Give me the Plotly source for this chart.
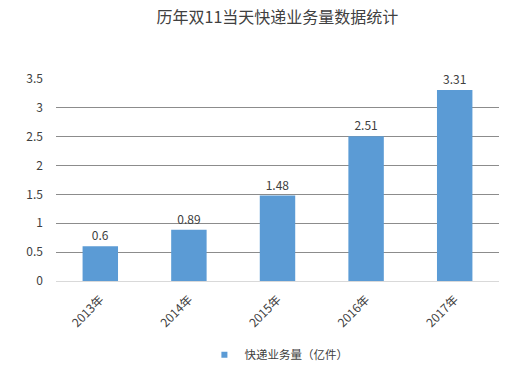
import plotly.graph_objects as go

categories = ["2013年", "2014年", "2015年", "2016年", "2017年"]
values = [0.6, 0.89, 1.48, 2.51, 3.31]
labels = ["0.6", "0.89", "1.48", "2.51", "3.31"]
series_name = "快递业务量（亿件）"
title = "历年双11当天快递业务量数据统计"

font_family = "Microsoft YaHei, Noto Sans CJK SC, sans-serif"
bar_color = "#5b9bd5"

fig = go.Figure()
fig.add_trace(go.Bar(
    x=categories, y=values, name=series_name,
    marker=dict(color=bar_color, line=dict(width=0)),
    width=0.4,
    text=labels, textposition="outside",
    textfont=dict(size=12, color="#404040", family=font_family),
    cliponaxis=False, showlegend=False,
))
fig.add_trace(go.Scatter(
    x=[None], y=[None], mode="markers", name=series_name,
    marker=dict(symbol="square", size=6, color=bar_color),
    showlegend=True,
))
fig.update_layout(
    width=512, height=378,
    margin=dict(l=56, r=13, t=79, b=97, autoexpand=False),
    paper_bgcolor="white", plot_bgcolor="white",
    title=dict(text=title, x=0.542, xanchor="center", y=0.955, yanchor="middle",
               font=dict(size=16, color="#404040", family=font_family)),
    showlegend=True,
    legend=dict(orientation="h", x=0.335, xanchor="left", y=-0.365, yanchor="middle",
                font=dict(size=11.5, color="#404040", family=font_family),
                itemwidth=30),
    font=dict(family=font_family),
)
fig.update_xaxes(tickangle=-45, tickfont=dict(size=12, color="#404040", family=font_family),
                 showline=True, linecolor="#d9d9d9", linewidth=1, ticks="", showgrid=False,
                 ticklabelstandoff=6, automargin=False)
fig.update_yaxes(range=[0, 3.5], tickvals=[0, 0.5, 1, 1.5, 2, 2.5, 3, 3.5],
                 ticktext=["0", "0.5", "1", "1.5", "2", "2.5", "3", "3.5"],
                 showgrid=True, gridcolor="#8c8c8c", gridwidth=1, zeroline=False,
                 tickfont=dict(size=12, color="#404040", family=font_family), ticks="",
                 ticklabelstandoff=12, automargin=False)
fig.write_html("out.html")
